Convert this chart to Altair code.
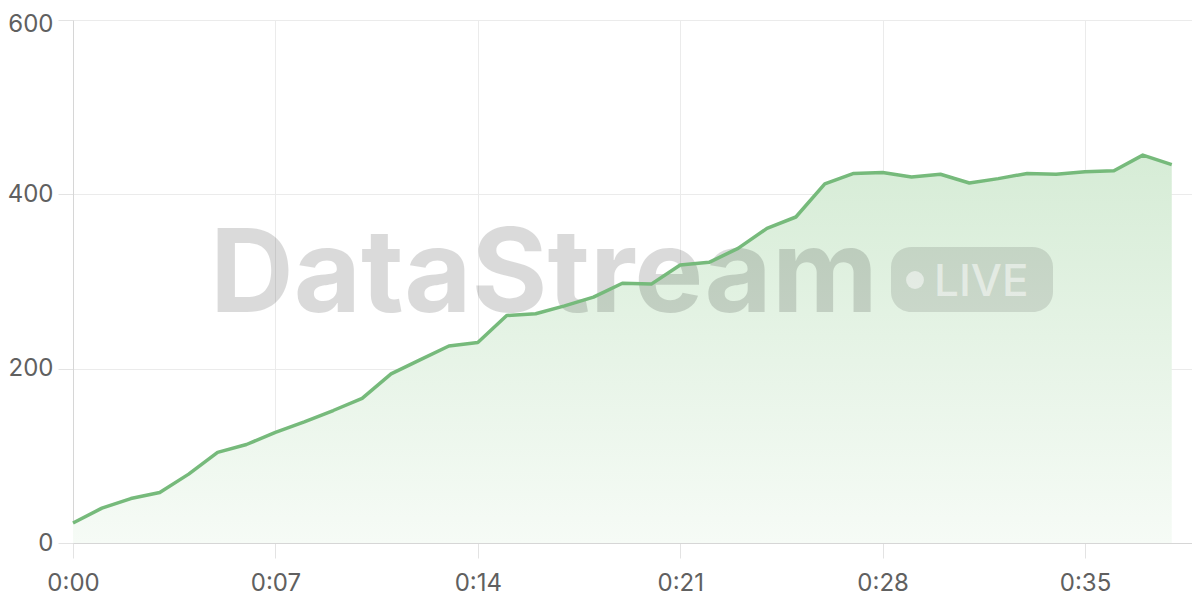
import altair as alt
import pandas as pd

# ---- data ----
seconds = list(range(39))
values = [23, 40, 51, 58, 79, 104, 113, 127, 139, 152, 166, 194, 210, 226, 230,
          261, 263, 272, 282, 298, 297, 319, 322, 338, 361, 374, 412, 424, 425,
          420, 423, 413, 418, 424, 423, 426, 427, 445, 434]
x_ticks = [0, 7, 14, 21, 28, 35]
y_ticks = [0, 200, 400, 600]
watermark_text = ["DataStream"]
badge_text = ["LIVE"]

df = pd.DataFrame({"sec": seconds, "val": values})

label_expr = ("floor(datum.value/60) + ':' + (datum.value%60 < 10 ? '0' : '') "
              "+ (datum.value%60)")

x_enc = alt.X("sec:Q",
              scale=alt.Scale(domain=[0, 38.7], nice=False, zero=False),
              axis=alt.Axis(values=x_ticks, labelExpr=label_expr, title=None,
                            labelPadding=13, labelFlush=False, grid=True))
y_enc = alt.Y("val:Q",
              scale=alt.Scale(domain=[0, 600], nice=False),
              axis=alt.Axis(values=y_ticks, title=None, labelPadding=5,
                            labelFlush=False, grid=True,
                            labelOffset={"condition": {"test": "datum.value == 600", "value": 4},
                                         "value": 0}))

base = alt.Chart(df).encode(x=x_enc, y=y_enc)

area = base.mark_area(
    color=alt.Gradient(
        gradient="linear",
        stops=[alt.GradientStop(color="#d6ecd6", offset=0),
               alt.GradientStop(color="#f6fbf6", offset=1)],
        x1=1, x2=1, y1=0, y2=1,
    ),
    line=False,
)

line = base.mark_line(color="#76ba7b", strokeWidth=3.5, strokeJoin="round")

wm = alt.Chart(pd.DataFrame({"label": watermark_text})).mark_text(
    font="Inter", fontWeight="bold", fontSize=116, align="left",
    baseline="alphabetic", color="#000000", opacity=0.14,
).encode(x=alt.value(137), y=alt.value(292), text="label:N")

badge = alt.Chart(pd.DataFrame({"label": badge_text})).mark_rect(
    cornerRadius=20, color="#000000", opacity=0.11,
).encode(x=alt.value(818), x2=alt.value(980), y=alt.value(227), y2=alt.value(292))

dot = alt.Chart(pd.DataFrame({"label": badge_text})).mark_point(
    filled=True, shape="circle", size=320, color="#ffffff", opacity=0.5,
).encode(x=alt.value(842), y=alt.value(260))

live = alt.Chart(pd.DataFrame({"label": badge_text})).mark_text(
    font="Inter", fontWeight=500, fontSize=44, align="left",
    baseline="alphabetic", color="#ffffff", opacity=0.5,
).encode(x=alt.value(861), y=alt.value(276), text="label:N")

chart = alt.layer(area, wm, badge, dot, live, line).properties(
    width=1119, height=523,
    padding={"left": 65, "top": 12, "right": 0, "bottom": 52},
    autosize=alt.AutoSizeParams(type="none"),
).configure_axis(
    domainColor="#d6d6d6", gridColor="#ebebeb", tickColor="#e3e3e3",
    tickSize=15, labelColor="#606060", labelFont="Inter", labelFontSize=24,
).configure_view(stroke=None)

chart.save("out.html", embed_options={"renderer": "svg", "actions": False})
